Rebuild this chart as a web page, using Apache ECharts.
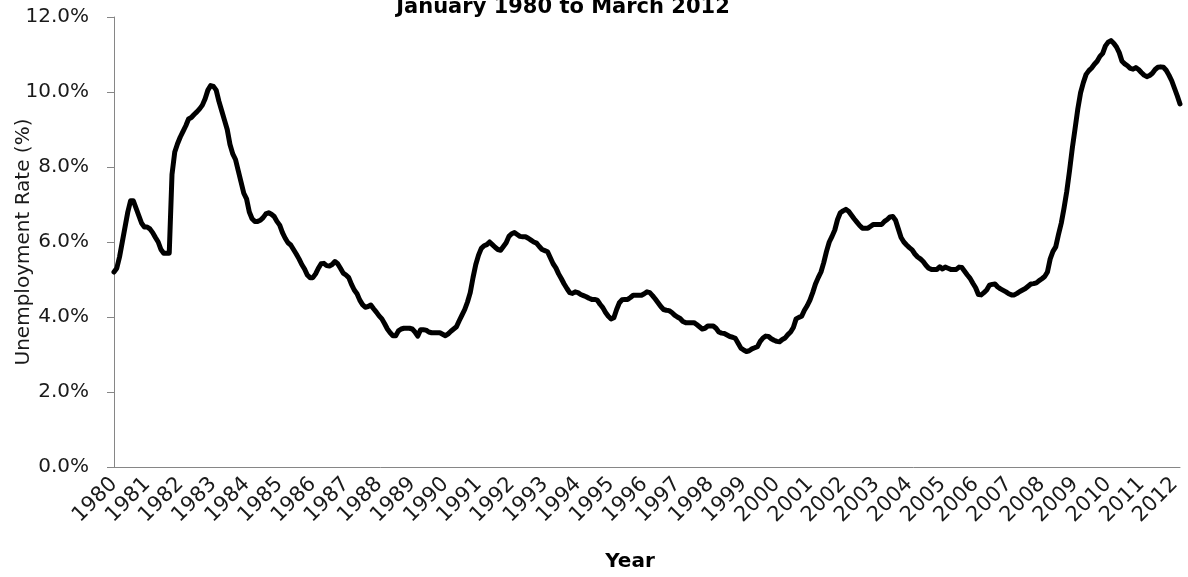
<!DOCTYPE html>
<html>
<head>
<meta charset="utf-8">
<script src="https://cdn.jsdelivr.net/npm/echarts@6/dist/echarts.min.js"></script>
<style>
html,body{margin:0;padding:0;background:#ffffff;}
#chart{width:1188px;height:577px;}
</style>
</head>
<body>
<div id="chart"></div>
<script>
// Tick labels (years) and month names
const years = [1980,1981,1982,1983,1984,1985,1986,1987,1988,1989,1990,1991,1992,1993,1994,1995,1996,1997,1998,1999,2000,2001,2002,2003,2004,2005,2006,2007,2008,2009,2010,2011,2012];
const monthNames = ['Jan','Feb','Mar','Apr','May','Jun','Jul','Aug','Sep','Oct','Nov','Dec'];

// Monthly unemployment rate (%), one array per year
const y1980 = [5.2, 5.3, 5.6, 6.0, 6.4, 6.8, 7.1, 7.1, 6.9, 6.7, 6.5, 6.4];
const y1981 = [6.4, 6.35, 6.25, 6.12, 6.0, 5.8, 5.7, 5.7, 5.7, 7.8, 8.4, 8.62];
const y1982 = [8.8, 8.95, 9.1, 9.28, 9.32, 9.4, 9.47, 9.55, 9.65, 9.82, 10.05, 10.17];
const y1983 = [10.15, 10.05, 9.75, 9.5, 9.25, 9.0, 8.6, 8.35, 8.2, 7.9, 7.6, 7.3];
const y1984 = [7.15, 6.8, 6.62, 6.55, 6.55, 6.58, 6.65, 6.75, 6.78, 6.74, 6.68, 6.55];
const y1985 = [6.45, 6.25, 6.1, 5.98, 5.92, 5.8, 5.68, 5.55, 5.4, 5.28, 5.12, 5.05];
const y1986 = [5.05, 5.15, 5.3, 5.42, 5.43, 5.37, 5.36, 5.4, 5.48, 5.42, 5.3, 5.17];
const y1987 = [5.12, 5.05, 4.87, 4.72, 4.62, 4.45, 4.33, 4.26, 4.28, 4.32, 4.22, 4.13];
const y1988 = [4.03, 3.95, 3.82, 3.68, 3.58, 3.5, 3.5, 3.63, 3.68, 3.7, 3.7, 3.7];
const y1989 = [3.68, 3.6, 3.49, 3.66, 3.66, 3.65, 3.6, 3.58, 3.58, 3.58, 3.58, 3.54];
const y1990 = [3.5, 3.55, 3.62, 3.68, 3.74, 3.9, 4.05, 4.2, 4.4, 4.65, 5.05, 5.4];
const y1991 = [5.65, 5.83, 5.9, 5.93, 6.0, 5.93, 5.86, 5.8, 5.78, 5.88, 5.98, 6.15];
const y1992 = [6.22, 6.25, 6.2, 6.15, 6.14, 6.14, 6.1, 6.05, 6.0, 5.97, 5.88, 5.8];
const y1993 = [5.77, 5.74, 5.58, 5.42, 5.31, 5.15, 5.02, 4.88, 4.76, 4.65, 4.63, 4.67];
const y1994 = [4.65, 4.6, 4.57, 4.54, 4.5, 4.47, 4.47, 4.45, 4.34, 4.25, 4.12, 4.02];
const y1995 = [3.95, 3.98, 4.2, 4.38, 4.46, 4.47, 4.47, 4.52, 4.58, 4.58, 4.58, 4.58];
const y1996 = [4.62, 4.67, 4.65, 4.57, 4.48, 4.38, 4.28, 4.2, 4.18, 4.17, 4.12, 4.05];
const y1997 = [4.0, 3.96, 3.88, 3.85, 3.85, 3.85, 3.85, 3.8, 3.74, 3.68, 3.7, 3.76];
const y1998 = [3.76, 3.76, 3.7, 3.6, 3.57, 3.56, 3.52, 3.48, 3.46, 3.43, 3.3, 3.17];
const y1999 = [3.12, 3.08, 3.1, 3.15, 3.18, 3.21, 3.35, 3.44, 3.49, 3.48, 3.42, 3.38];
const y2000 = [3.35, 3.34, 3.4, 3.44, 3.53, 3.6, 3.72, 3.95, 3.99, 4.02, 4.18, 4.3];
const y2001 = [4.45, 4.65, 4.88, 5.05, 5.2, 5.45, 5.75, 6.0, 6.15, 6.32, 6.6, 6.78];
const y2002 = [6.83, 6.87, 6.82, 6.72, 6.62, 6.53, 6.44, 6.37, 6.37, 6.37, 6.42, 6.47];
const y2003 = [6.47, 6.47, 6.47, 6.55, 6.6, 6.67, 6.68, 6.58, 6.35, 6.12, 6.0, 5.92];
const y2004 = [5.85, 5.79, 5.68, 5.6, 5.55, 5.48, 5.38, 5.3, 5.27, 5.27, 5.27, 5.34];
const y2005 = [5.28, 5.33, 5.3, 5.27, 5.27, 5.27, 5.33, 5.32, 5.22, 5.12, 5.03, 4.9];
const y2006 = [4.78, 4.6, 4.59, 4.65, 4.72, 4.85, 4.87, 4.88, 4.8, 4.75, 4.71, 4.67];
const y2007 = [4.62, 4.59, 4.59, 4.63, 4.68, 4.72, 4.76, 4.82, 4.88, 4.89, 4.91, 4.97];
const y2008 = [5.02, 5.08, 5.2, 5.55, 5.75, 5.87, 6.2, 6.5, 6.9, 7.35, 7.9, 8.5];
const y2009 = [9.02, 9.55, 9.98, 10.25, 10.47, 10.57, 10.64, 10.74, 10.82, 10.95, 11.03, 11.23];
const y2010 = [11.33, 11.37, 11.3, 11.2, 11.05, 10.82, 10.75, 10.7, 10.63, 10.61, 10.65, 10.6];
const y2011 = [10.52, 10.45, 10.41, 10.44, 10.5, 10.6, 10.66, 10.67, 10.66, 10.58, 10.45, 10.3];
const y2012 = [10.1, 9.9, 9.68];

const yearly = [y1980,y1981,y1982,y1983,y1984,y1985,y1986,y1987,y1988,y1989,y1990,y1991,y1992,y1993,y1994,y1995,y1996,y1997,y1998,y1999,y2000,y2001,y2002,y2003,y2004,y2005,y2006,y2007,y2008,y2009,y2010,y2011,y2012];

const categories = [];
const rates = [];
yearly.forEach(function (arr, i) {
  arr.forEach(function (v, j) {
    categories.push(monthNames[j] + ' ' + years[i]);
    rates.push(v);
  });
});

const FONT = 'DejaVu Sans';
const chart = echarts.init(document.getElementById('chart'), null, {renderer: 'canvas'});
chart.setOption({
  animation: false,
  backgroundColor: '#ffffff',
  title: {
    text: 'January 1980 to March 2012',
    left: 563,
    textAlign: 'center',
    top: -3,
    padding: 0,
    textStyle: {fontFamily: FONT, fontWeight: 'bold', fontSize: 21, color: '#000000'}
  },
  grid: {left: 114, right: 8, top: 17, bottom: 110, containLabel: false, outerBoundsMode: 'none'},
  xAxis: {
    type: 'category',
    data: categories,
    boundaryGap: false,
    axisLine: {show: true, lineStyle: {color: '#868686', width: 1}},
    axisTick: {show: false},
    splitLine: {show: false},
    axisLabel: {
      interval: 11,
      rotate: 45,
      margin: 14,
      fontFamily: FONT,
      fontSize: 21,
      color: '#1a1a1a',
      formatter: function (v) { return v.split(' ')[1]; }
    },
    name: 'Year',
    nameLocation: 'middle',
    nameGap: 85,
    nameMoveOverlap: false,
    nameTextStyle: {fontFamily: FONT, fontWeight: 'bold', fontSize: 20, color: '#000000', padding: [0, 34, 0, 0]}
  },
  yAxis: {
    type: 'value',
    min: 0,
    max: 12,
    interval: 2,
    axisLine: {show: true, lineStyle: {color: '#868686', width: 1}},
    axisTick: {show: true, length: 7, lineStyle: {color: '#868686'}},
    splitLine: {show: false},
    axisLabel: {
      margin: 25,
      fontFamily: FONT,
      fontSize: 20,
      color: '#1a1a1a',
      formatter: function (v) { return v.toFixed(1) + '%'; }
    },
    name: 'Unemployment Rate (%)',
    nameLocation: 'middle',
    nameGap: 80,
    nameRotate: 90,
    nameMoveOverlap: false,
    nameTextStyle: {fontFamily: FONT, fontSize: 20, color: '#1a1a1a'}
  },
  series: [{
    type: 'line',
    data: rates,
    symbol: 'none',
    showSymbol: false,
    smooth: false,
    lineStyle: {color: '#000000', width: 5, join: 'round', cap: 'round'}
  }]
});
</script>
</body>
</html>
